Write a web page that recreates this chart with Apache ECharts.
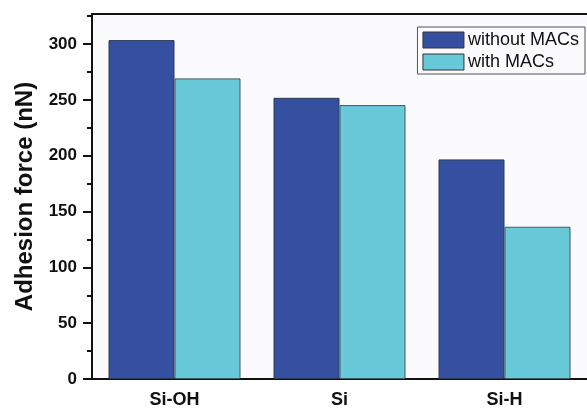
<!DOCTYPE html>
<html>
<head>
<meta charset="utf-8">
<script src="https://cdn.jsdelivr.net/npm/echarts@6/dist/echarts.min.js"></script>
<style>
  html, body { margin: 0; padding: 0; background: #fff; }
  #chart { width: 587px; height: 410px; }
</style>
</head>
<body>
<div id="chart"></div>
<script>
const categories = ['Si-OH', 'Si', 'Si-H']
const withoutMACs = [303.6, 251.9, 196.7]
const withMACs = [269.3, 245.4, 136.4]
const yTicks = [0, 50, 100, 150, 200, 250, 300]
const yMinorTicks = [25, 75, 125, 175, 225, 275, 325]

const font = '"Liberation Sans", Arial, Helvetica, sans-serif'
const darkBlue = '#3550a1'
const cyan = '#68c9d9'

const chart = echarts.init(document.getElementById('chart'))

chart.setOption({
  animation: false,
  backgroundColor: '#fff',
  textStyle: { fontFamily: font },
  grid: {
    left: 92, right: -2, top: 14, bottom: 31,
    show: true,
    backgroundColor: '#fbfbfd',
    borderWidth: 0
  },
  legend: {
    orient: 'vertical',
    right: 2,
    top: 27,
    padding: [4, 6, 3, 5],
    itemWidth: 41,
    itemHeight: 16,
    itemGap: 4,
    borderColor: '#555',
    borderWidth: 1,
    backgroundColor: '#fbfbfd',
    icon: 'rect',
    itemStyle: { borderColor: '#333', borderWidth: 1 },
    textStyle: { fontFamily: font, fontSize: 18, color: '#111', padding: [0, 0, 0, -1] },
    data: ['without MACs', 'with MACs']
  },
  xAxis: [
    {
      type: 'category',
      data: categories,
      axisLine: { lineStyle: { color: '#111', width: 2 } },
      axisTick: { alignWithLabel: true, length: 8, lineStyle: { color: '#111', width: 2 } },
      axisLabel: { fontFamily: font, fontSize: 18, fontWeight: 'bold', color: '#111', margin: 12 }
    },
    {
      type: 'category',
      data: categories,
      position: 'bottom',
      axisLine: { show: false },
      axisTick: { length: 4, lineStyle: { color: '#111', width: 2 } },
      axisLabel: { show: false }
    },
    {
      // top frame line
      type: 'category',
      data: categories,
      position: 'top',
      axisLine: { show: true, lineStyle: { color: '#111', width: 2 } },
      axisTick: { show: false },
      axisLabel: { show: false }
    }
  ],
  yAxis: [
    {
      type: 'value',
      min: 0,
      max: 327,
      interval: 50,
      name: 'Adhesion force (nN)',
      nameLocation: 'middle',
      nameGap: 54,
      nameTextStyle: { fontFamily: font, fontSize: 24, fontWeight: 'bold', color: '#111' },
      splitLine: { show: false },
      axisLine: { show: true, lineStyle: { color: '#111', width: 2 } },
      axisTick: { show: true, length: 9, customValues: yTicks, lineStyle: { color: '#111', width: 2 } },
      axisLabel: { fontFamily: font, fontSize: 17, fontWeight: 'bold', color: '#111', margin: 15, customValues: yTicks }
    },
    {
      type: 'value',
      min: 0,
      max: 327,
      position: 'left',
      splitLine: { show: false },
      axisLine: { show: false },
      axisTick: { show: true, length: 5, customValues: yMinorTicks, lineStyle: { color: '#111', width: 2 } },
      axisLabel: { show: false }
    }
  ],
  series: [
    {
      name: 'without MACs',
      type: 'bar',
      data: withoutMACs,
      barGap: '0%',
      barCategoryGap: '20%',
      itemStyle: { color: darkBlue, borderColor: '#2c3a55', borderWidth: 1 }
    },
    {
      name: 'with MACs',
      type: 'bar',
      data: withMACs,
      barGap: '0%',
      barCategoryGap: '20%',
      itemStyle: { color: cyan, borderColor: '#3d5a66', borderWidth: 1 }
    }
  ]
})
</script>
</body>
</html>
